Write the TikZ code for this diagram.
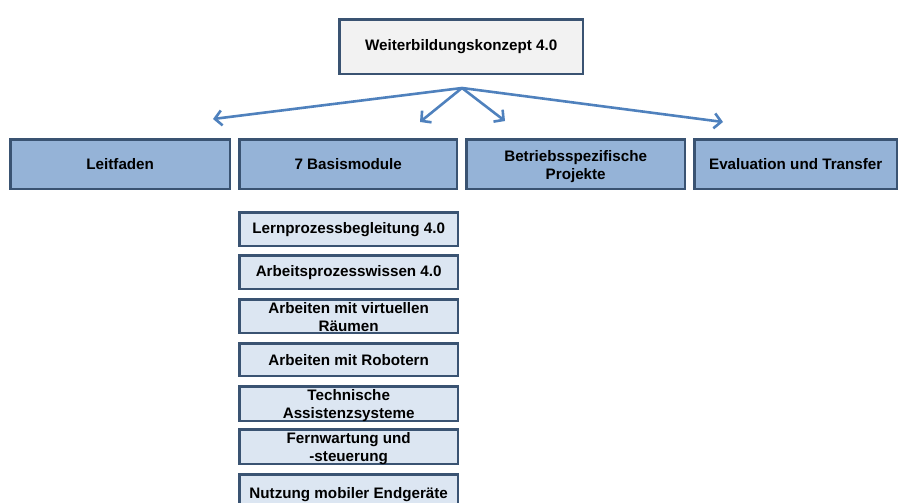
\documentclass[tikz,border=0pt]{standalone}
\usepackage{fontspec}
\setmainfont{Liberation Sans}
\usetikzlibrary{arrows.meta}
\definecolor{bordc}{HTML}{3A5372}
\definecolor{topfill}{HTML}{F2F2F2}
\definecolor{midfill}{HTML}{95B3D7}
\definecolor{modfill}{HTML}{DCE6F2}
\definecolor{arrc}{HTML}{4F81BD}
\newcommand{\mytwolines}[2]{\raisebox{3pt}[0pt][0pt]{\begin{tabular}[t]{@{}c@{}}#1\\#2\end{tabular}}}
\tikzset{
  basebox/.style={draw=bordc, line width=2.4pt, rectangle, anchor=north west, inner sep=0pt,
    font=\fontsize{15.2}{18}\selectfont\bfseries, text=black},
  topbox/.style={basebox, fill=topfill},
  midbox/.style={basebox, fill=midfill},
  modbox/.style={basebox, fill=modfill, minimum width=218.6pt},
  conn/.style={draw=arrc, line width=2.6pt, -{Straight Barb[length=7pt,width=15pt,line width=2.6pt]}}
}
\begin{document}
\begin{tikzpicture}[x=1pt,y=-1pt]
\useasboundingbox (0,0) rectangle (899,503);
\clip (0,0) rectangle (899,503);
\node[topbox, minimum width=243.6pt, minimum height=54.6pt] (top) at (338.2,18.2) {Weiterbildungskonzept 4.0};
\node[midbox, minimum width=219.6pt, minimum height=49.6pt] (leit) at (9.2,138.2) {Leitfaden};
\node[midbox, minimum width=217.6pt, minimum height=49.6pt] (basis) at (238.2,138.2) {7 Basismodule};
\node[midbox, minimum width=218.6pt, minimum height=49.6pt] (betr) at (465.2,138.2) {\mytwolines{Betriebsspezifische}{Projekte}};
\node[midbox, minimum width=202.6pt, minimum height=49.6pt] (eval) at (693.2,138.2) {Evaluation und Transfer};
\coordinate (hub) at (462,88);
\coordinate (t1) at (213,119);
\coordinate (t2) at (420,122);
\coordinate (t3) at (505,121);
\coordinate (t4) at (723,122);
\draw[conn] (hub) -- (t1);
\draw[conn] (hub) -- (t2);
\draw[conn] (hub) -- (t3);
\draw[conn] (hub) -- (t4);
\node[modbox, minimum height=33.6pt] (m1) at (238.2,211.2) {Lernprozessbegleitung 4.0};
\node[modbox, minimum height=33.6pt] (m2) at (238.2,254.2) {Arbeitsprozesswissen 4.0};
\node[modbox, minimum height=33.6pt] (m3) at (238.2,298.2) {\mytwolines{Arbeiten mit virtuellen}{Räumen}};
\node[modbox, minimum height=32.6pt] (m4) at (238.2,342.2) {Arbeiten mit Robotern};
\node[modbox, minimum height=34.6pt] (m5) at (238.2,385.2) {\mytwolines{Technische}{Assistenzsysteme}};
\node[modbox, minimum height=34.6pt] (m6) at (238.2,428.2) {\mytwolines{Fernwartung und}{-steuerung}};
\node[modbox, minimum height=40pt] (m7) at (238.2,473.2) {Nutzung mobiler Endgeräte};
\end{tikzpicture}
\end{document}
